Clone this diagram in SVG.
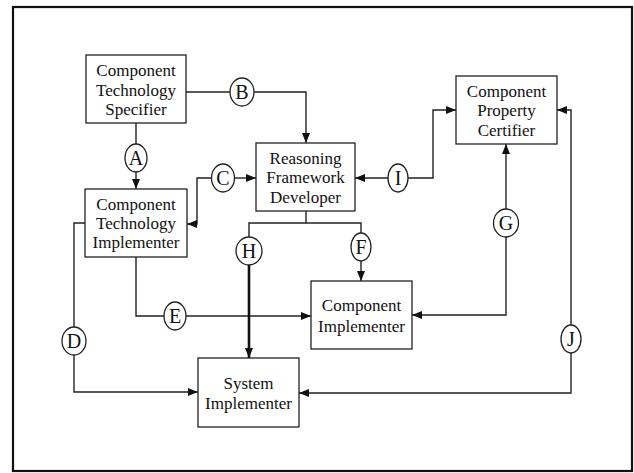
<svg xmlns="http://www.w3.org/2000/svg" width="634" height="473" viewBox="0 0 634 473">
<style>
.box{fill:#fff;stroke:#222;stroke-width:1.3}
.t{font-family:"Liberation Serif","Times New Roman",serif;font-size:17px;fill:#111;text-anchor:middle}
.lb{font-family:"Liberation Serif","Times New Roman",serif;font-size:20px;fill:#111;text-anchor:middle}
.ell{fill:#fff;stroke:#222;stroke-width:1.3}
.c{fill:none;stroke:#222;stroke-width:1.4}
.thick{fill:none;stroke:#111;stroke-width:2.6}
</style>
<defs>
<marker id="ar" markerUnits="userSpaceOnUse" markerWidth="10" markerHeight="10" viewBox="0 0 10 10" refX="10" refY="5" orient="auto">
<path d="M0,1 L10,5 L0,9 Z" fill="#111"/>
</marker>
</defs>
<rect x="13" y="7" width="619" height="464" fill="#fff" stroke="#111" stroke-width="2.2"/>
<g id="connectors">
<path class="c" d="M136,123 V144"/>
<path class="c" d="M136,172 V189" marker-end="url(#ar)"/>
<path class="c" d="M186,92 H230"/>
<path class="c" d="M254,92 H306 V143" marker-end="url(#ar)"/>
<path class="c" d="M234.5,178 H256" marker-end="url(#ar)"/>
<path class="c" d="M211.5,178 H197 V224 H187" marker-end="url(#ar)"/>
<path class="c" d="M388,178 H355" marker-end="url(#ar)"/>
<path class="c" d="M408,178 H433 V110 H456" marker-end="url(#ar)"/>
<path class="c" d="M506,209 V144" marker-end="url(#ar)"/>
<path class="c" d="M506,237 V315 H412" marker-end="url(#ar)"/>
<path class="c" d="M571,325 V110 H557" marker-end="url(#ar)"/>
<path class="c" d="M571,353 V393 H299" marker-end="url(#ar)"/>
<path class="c" d="M85,223 H74 V327"/>
<path class="c" d="M74,355 V392 H198" marker-end="url(#ar)"/>
<path class="c" d="M136,257 V316 H164"/>
<path class="c" d="M186,316 H311" marker-end="url(#ar)"/>
<path class="c" d="M306,211 V223 M249,237 V223 H361 V233"/>
<path class="thick" d="M249,265 V358" marker-end="url(#ar)"/>
<path class="c" d="M361,261 V281" marker-end="url(#ar)"/>
</g>
<g id="cts"><rect class="box" x="86" y="55" width="100" height="68"/>
<text class="t" x="136" y="76">Component</text><text class="t" x="136" y="96">Technology</text><text class="t" x="136" y="115">Specifier</text></g>
<g id="cti"><rect class="box" x="85" y="189" width="102" height="68"/>
<text class="t" x="136" y="210">Component</text><text class="t" x="136" y="229">Technology</text><text class="t" x="136" y="248">Implementer</text></g>
<g id="rfd"><rect class="box" x="256" y="143" width="99" height="68"/>
<text class="t" x="305.5" y="164">Reasoning</text><text class="t" x="305.5" y="183">Framework</text><text class="t" x="305.5" y="203">Developer</text></g>
<g id="cpc"><rect class="box" x="456" y="76" width="101" height="68"/>
<text class="t" x="506.5" y="97">Component</text><text class="t" x="506.5" y="116">Property</text><text class="t" x="506.5" y="136">Certifier</text></g>
<g id="ci"><rect class="box" x="311" y="281" width="101" height="68"/>
<text class="t" x="361.5" y="311">Component</text><text class="t" x="361.5" y="332">Implementer</text></g>
<g id="si"><rect class="box" x="198" y="358" width="101" height="69"/>
<text class="t" x="248.5" y="389">System</text><text class="t" x="248.5" y="409">Implementer</text></g>
<g id="lA"><ellipse class="ell" cx="136" cy="158" rx="11" ry="14"/><text class="lb" x="136" y="165">A</text></g>
<g id="lB"><ellipse class="ell" cx="242" cy="92" rx="12" ry="14"/><text class="lb" x="242" y="99">B</text></g>
<g id="lC"><ellipse class="ell" cx="223" cy="178" rx="11.5" ry="14"/><text class="lb" x="223" y="185">C</text></g>
<g id="lD"><ellipse class="ell" cx="74" cy="341" rx="12" ry="14"/><text class="lb" x="74" y="348">D</text></g>
<g id="lE"><ellipse class="ell" cx="175" cy="316" rx="11" ry="14"/><text class="lb" x="175" y="323">E</text></g>
<g id="lF"><ellipse class="ell" cx="361" cy="247" rx="10" ry="14"/><text class="lb" x="361" y="254">F</text></g>
<g id="lG"><ellipse class="ell" cx="506" cy="223" rx="12.5" ry="14"/><text class="lb" x="506" y="230">G</text></g>
<g id="lH"><ellipse class="ell" cx="249" cy="251" rx="13" ry="14"/><text class="lb" x="249" y="258">H</text></g>
<g id="lI"><ellipse class="ell" cx="398" cy="178" rx="10" ry="14"/><text class="lb" x="398" y="185">I</text></g>
<g id="lJ"><ellipse class="ell" cx="571" cy="339" rx="10" ry="14"/><text class="lb" x="571" y="346">J</text></g>
</svg>
